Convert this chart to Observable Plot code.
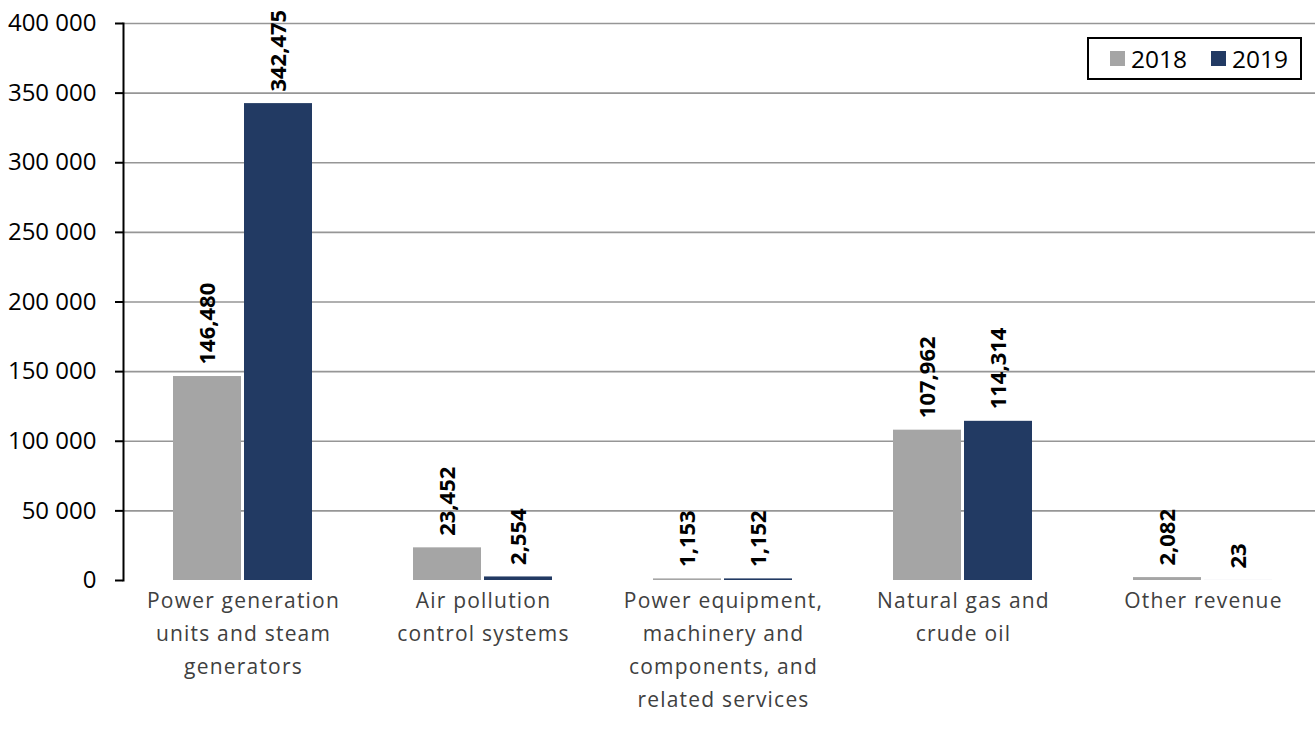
<!DOCTYPE html>
<html><head><meta charset="utf-8">
<script src="https://cdn.jsdelivr.net/npm/d3@7"></script>
<script src="https://cdn.jsdelivr.net/npm/@observablehq/plot@0.6"></script>
<style>
html,body{margin:0;padding:0;background:#fff;overflow:hidden;}
#wrap{position:relative;width:1315px;height:731px;overflow:hidden;font-family:"Open Sans",sans-serif;}
#chart svg{max-width:none !important;display:block;}
#legend{position:absolute;left:1087px;top:37px;width:211px;height:39px;border:2px solid #000;background:#fff;display:flex;align-items:center;justify-content:flex-end;box-sizing:content-box;}
.item{display:flex;align-items:center;font-size:24.5px;color:#000;margin-right:12px;}
.item + .item{margin-left:12px;}
.sw{width:15px;height:15px;margin-right:6px;}
</style></head><body>
<div id="wrap"><div id="chart"></div><div id="legend"></div></div>
<script>
const categories = [
  "Power generation units and steam generators",
  "Air pollution control systems",
  "Power equipment, machinery and components, and related services",
  "Natural gas and crude oil",
  "Other revenue"
];
const categoryLines = [
  ["Power generation", "units and steam", "generators"],
  ["Air pollution", "control systems"],
  ["Power equipment,", "machinery and", "components, and", "related services"],
  ["Natural gas and", "crude oil"],
  ["Other revenue"]
];
const years = ["2018", "2019"];
const values2018 = [146480, 23452, 1153, 107962, 2082];
const values2019 = [342475, 2554, 1152, 114314, 23];
const yTicks = [0, 50000, 100000, 150000, 200000, 250000, 300000, 350000, 400000];
const gridTicks = yTicks.filter(d => d > 0);
const colors = ["#A5A5A5", "#223A63"];

const rows = categories.flatMap((c, i) => [
  {category: c, year: years[0], value: values2018[i]},
  {category: c, year: years[1], value: values2019[i]}
]);
const labelOf = c => categoryLines[categories.indexOf(c)].join("\n");
const fmtY = d => d3.format(",")(d).replace(/,/g, " ");

const chart = Plot.plot({
  width: 1323, height: 731,
  marginLeft: 122, marginRight: 0, marginTop: 23, marginBottom: 151,
  style: {fontFamily: "Open Sans", background: "#fff", maxWidth: "none"},
  fx: {domain: categories, padding: 0, label: null},
  x: {domain: years, paddingInner: 0.042, paddingOuter: 0.7, axis: null},
  y: {domain: [0, 400000], label: null},
  color: {domain: years, range: colors},
  marks: [
    Plot.gridY(gridTicks, {stroke: "#969696", strokeOpacity: 1, strokeWidth: 1.6}),
    Plot.axisY(yTicks, {tickSize: 8, tickPadding: 19, fontSize: 24, tickFormat: fmtY, label: null, stroke: "#000", strokeWidth: 2, fill: "#000"}),
    Plot.frame({anchor: "left", facetAnchor: "left", stroke: "#000", strokeWidth: 2}),
    Plot.barY(rows, {fx: "category", x: "year", y: "value", fill: "year"}),
    Plot.text(rows, {fx: "category", x: "year", y: "value", text: d => d3.format(",")(d.value),
      rotate: -90, textAnchor: "start", dy: -12, fontWeight: "bold", fontSize: 22, fill: "#000"}),
    Plot.axisFx({anchor: "bottom", tickSize: 0, tickPadding: 4, tickFormat: labelOf, fontSize: 21,
      lineHeight: 1.57, label: null, fill: "#404040"})
  ]
});
document.getElementById("chart").appendChild(chart);
chart.querySelectorAll('[aria-label="fx-axis tick label"] text').forEach(t => t.style.letterSpacing = "1.2px");

const legend = document.getElementById("legend");
years.forEach((y, i) => {
  const it = document.createElement("div");
  it.className = "item";
  it.innerHTML = `<div class="sw" style="background:${colors[i]}"></div><span>${y}</span>`;
  legend.appendChild(it);
});
</script>
</body></html>
